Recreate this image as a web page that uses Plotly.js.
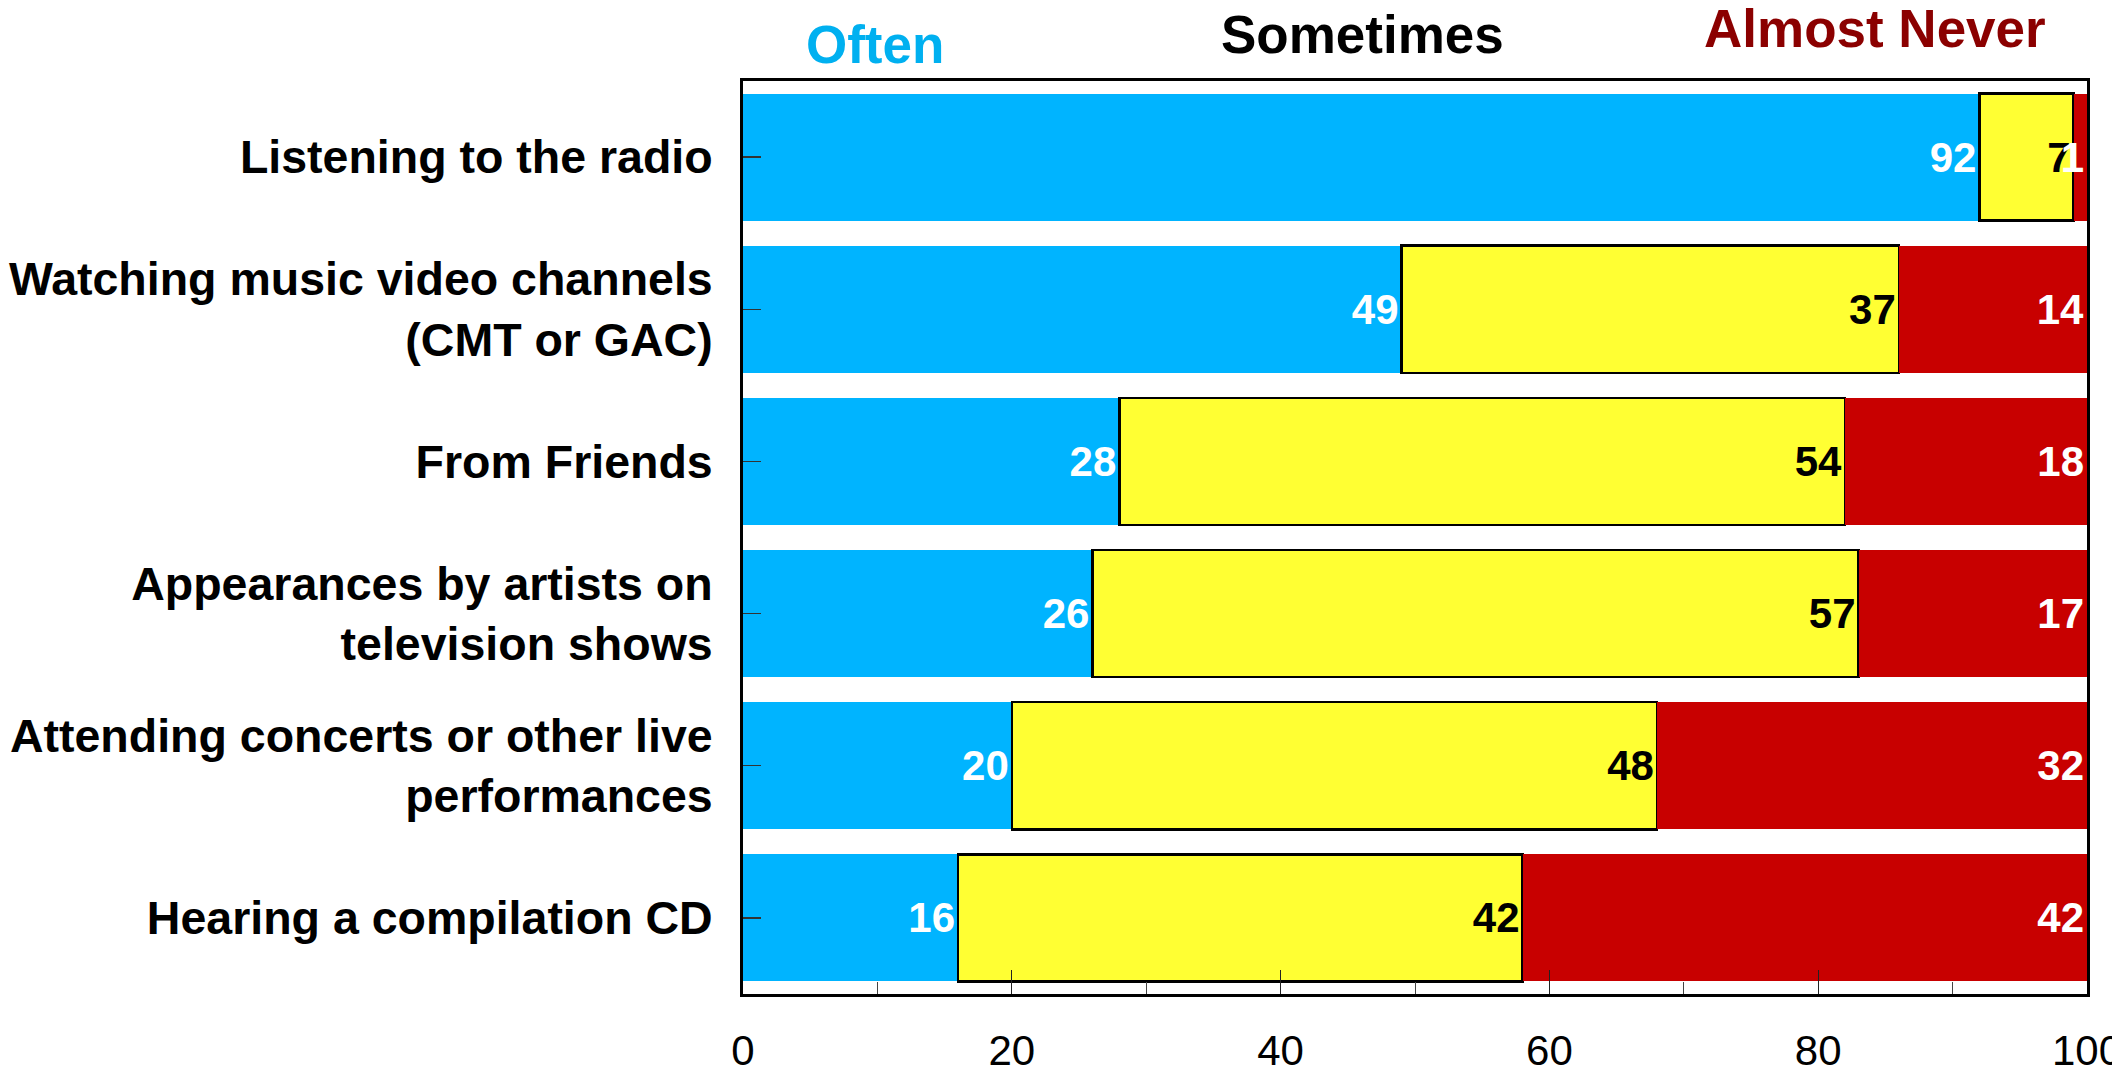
<!DOCTYPE html>
<html>
<head>
<meta charset="utf-8">
<script src="https://cdn.plot.ly/plotly-3.0.1.min.js"></script>
<style>
html,body{margin:0;padding:0;background:#fff;}
#chart{width:2112px;height:1072px;}
</style>
</head>
<body>
<div id="chart"></div>
<script>
const categories = [
  "Listening to the radio",
  "Watching music video channels<br>(CMT or GAC)",
  "From Friends",
  "Appearances by artists on<br>television shows",
  "Attending concerts or other live<br>performances",
  "Hearing a compilation CD"
];
const seriesNames = ["Often", "Sometimes", "Almost Never"];
const often = [92, 49, 28, 26, 20, 16];
const sometimes = [7, 37, 54, 57, 48, 42];
const almostNever = [1, 14, 18, 17, 32, 42];
const xTicks = [0, 20, 40, 60, 80, 100];

const FONT = "Liberation Sans, Arial, sans-serif";
const colors = ["#00B4FF", "#FFFF33", "#C80000"];
const textColors = ["#FFFFFF", "#000000", "#FFFFFF"];
const headerColors = ["#00B0F0", "#000000", "#8B0000"];
const values = [often, sometimes, almostNever];

const traces = values.map((v, i) => ({
  type: "bar",
  orientation: "h",
  name: seriesNames[i],
  y: categories,
  x: v,
  text: v.map(String),
  textposition: "inside",
  insidetextanchor: "end",
  textfont: {family: FONT, size: 42, color: textColors[i], weight: "bold"},
  marker: {
    color: colors[i],
    line: i === 1 ? {color: "#000000", width: 2.5} : {color: "rgba(0,0,0,0)", width: 0}
  },
  hoverinfo: "x+y",
  cliponaxis: false
}));

const headerX = [0.098, 0.461, 0.842];
const headerY = [1.006, 1.016, 1.023];
const annotations = seriesNames.map((n, i) => ({
  xref: "paper", yref: "paper",
  x: headerX[i], y: headerY[i],
  xanchor: "center", yanchor: "bottom",
  text: "<b>" + n + "</b>",
  showarrow: false,
  font: {family: FONT, size: 53, color: headerColors[i]}
}));

const layout = {
  width: 2112,
  height: 1072,
  margin: {l: 743, r: 25, t: 81, b: 78, pad: 0},
  paper_bgcolor: "#ffffff",
  plot_bgcolor: "#ffffff",
  barmode: "stack",
  bargap: 0.165,
  showlegend: false,
  font: {family: FONT, color: "#000"},
  xaxis: {
    range: [0, 100],
    tickvals: xTicks,
    ticktext: xTicks.map(String),
    ticks: "inside",
    ticklen: 24,
    tickwidth: 1.2,
    tickcolor: "#222",
    minor: {dtick: 10, ticks: "inside", ticklen: 12, tickwidth: 1, tickcolor: "#444"},
    showgrid: false,
    zeroline: false,
    showline: true,
    linecolor: "#000",
    linewidth: 3,
    mirror: true,
    ticklabelstandoff: 18,
    ticklabeloverflow: "allow",
    tickfont: {family: FONT, size: 42, color: "#000"},
    fixedrange: true
  },
  yaxis: {
    type: "category",
    autorange: "reversed",
    ticks: "inside",
    ticklen: 18,
    tickwidth: 1.2,
    tickcolor: "#333",
    showgrid: false,
    zeroline: false,
    showline: true,
    linecolor: "#000",
    linewidth: 3,
    mirror: true,
    ticklabelstandoff: 18,
    tickfont: {family: FONT, size: 46.5, color: "#000", weight: "bold"},
    fixedrange: true
  },
  uniformtext: {mode: "show", minsize: 42},
  annotations: annotations
};

Plotly.newPlot("chart", traces, layout, {displayModeBar: false, staticPlot: true});
</script>
</body>
</html>
